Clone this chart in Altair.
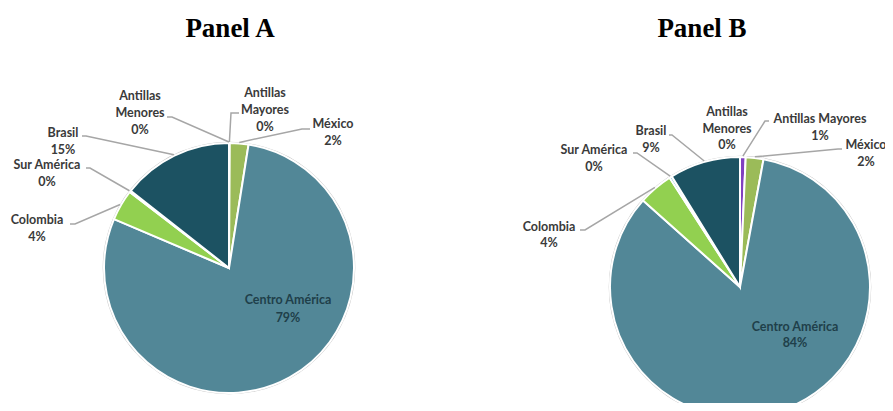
import math
import altair as alt
import pandas as pd

# ---------------- data ----------------
regions = ["Antillas Mayores", "México", "Centro América", "Colombia",
           "Sur América", "Brasil", "Antillas Menores"]
share_a = [0.1, 2.4, 78.9, 4.0, 0.2, 14.4, 0.0]
share_b = [0.7, 2.2, 83.7, 4.3, 0.3, 8.8, 0.0]
pct_a = ["0%", "2%", "79%", "4%", "0%", "15%", "0%"]
pct_b = ["1%", "2%", "84%", "4%", "0%", "9%", "0%"]
panel_titles = ["Panel A", "Panel B"]

colors = ["#8040C0", "#9BBB59", "#528797", "#92D050", "#4BACC6", "#1C5262", "#C0504D"]

# ---------------- layout (page pixels) ----------------
W, H = 877, 395
OFF = 8
pies = {"A": dict(cx=229, cy=268, r=125), "B": dict(cx=740, cy=287, r=130)}
title_pos = {"A": (230, 37), "B": (702, 37)}

# label text: name lines, x centre, first-line y, line spacing
label_layout = {
    "A": {
        "Antillas Menores": (["Antillas", "Menores"], 140, 96, 17),
        "Antillas Mayores": (["Antillas", "Mayores"], 265, 93, 17),
        "México": (["México"], 333, 124, 17),
        "Brasil": (["Brasil"], 63, 133, 17),
        "Sur América": (["Sur América"], 47, 165, 17),
        "Colombia": (["Colombia"], 37, 220, 17),
        "Centro América": (["Centro América"], 288, 300, 18),
    },
    "B": {
        "Antillas Menores": (["Antillas", "Menores"], 727, 112, 16.5),
        "Antillas Mayores": (["Antillas Mayores"], 820, 119, 17),
        "México": (["México"], 866, 145, 17),
        "Brasil": (["Brasil"], 651, 131, 17),
        "Sur América": (["Sur América"], 594, 150, 17),
        "Colombia": (["Colombia"], 549, 227, 16),
        "Centro América": (["Centro América"], 795, 327, 16),
    },
}
# leader lines: label end point, elbow point (then to the slice edge)
leader_layout = {
    "A": {
        "Antillas Menores": [(167, 117), (172, 117)],
        "Antillas Mayores": [(239, 113), (231, 113)],
        "México": [(310, 129), (302, 129)],
        "Brasil": [(82, 136), (86, 136)],
        "Sur América": [(86, 168), (90, 168)],
        "Colombia": [(70, 224), (75, 224)],
    },
    "B": {
        "Antillas Mayores": [(769, 121), (765, 121)],
        "México": [(842, 149), (838, 149)],
        "Brasil": [(669, 135), (672, 135)],
        "Sur América": [(633, 153), (637, 153)],
        "Colombia": [(580, 230), (585, 230)],
    },
}

panels = {"A": (share_a, pct_a), "B": (share_b, pct_b)}

# ---------------- build tables ----------------
arc_rows, text_rows, line_rows = [], [], []
for p, (shares, pcts) in panels.items():
    geo = pies[p]
    cum = 0.0
    total = sum(shares)
    for i, (reg, s, pc) in enumerate(zip(regions, shares, pcts)):
        arc_rows.append(dict(panel=p, region=reg, share=s, order=i))
        mid = 2 * math.pi * (cum + s / 2) / total
        cum += s
        names, lx, ly, sp = label_layout[p][reg]
        lines = names + [pc]
        for k, t in enumerate(lines):
            text_rows.append(dict(panel=p, region=reg, text=t,
                                  x=lx - OFF, y=ly + k * sp - OFF,
                                  inside=reg == "Centro América"))
        if reg in leader_layout[p]:
            pts = leader_layout[p][reg]
            ex = geo["cx"] + (geo["r"] + 1) * math.sin(mid)
            ey = geo["cy"] - (geo["r"] + 1) * math.cos(mid)
            pts = pts + [(ex, ey)]
            for k, (px, py) in enumerate(pts):
                line_rows.append(dict(id=p + reg, seq=k, x=px - OFF, y=py - OFF))

arc_df = pd.DataFrame(arc_rows)
text_df = pd.DataFrame(text_rows)
line_df = pd.DataFrame(line_rows)
title_df = pd.DataFrame([dict(text=t, x=title_pos[p][0] - OFF, y=title_pos[p][1] - OFF)
                         for t, p in zip(panel_titles, ["A", "B"])])

xs = alt.Scale(domain=[0, W])
ys = alt.Scale(domain=[0, H], reverse=True)
color_scale = alt.Scale(domain=regions, range=colors)

layers = []
for p in ["A", "B"]:
    geo = pies[p]
    ring = alt.Chart(pd.DataFrame({"a": [1]})).mark_arc(
        theta=0, theta2=2 * math.pi, innerRadius=geo["r"], outerRadius=geo["r"] + 1.3,
        color="#C4C4C4"
    ).encode(x=alt.value(geo["cx"] - OFF), y=alt.value(geo["cy"] - OFF))
    pie = alt.Chart(arc_df).transform_filter(alt.datum.panel == p).mark_arc(
        outerRadius=geo["r"], stroke="white", strokeWidth=2
    ).encode(
        theta=alt.Theta("share:Q", stack=True),
        order=alt.Order("order:Q"),
        color=alt.Color("region:N", scale=color_scale, legend=None),
        x=alt.value(geo["cx"] - OFF),
        y=alt.value(geo["cy"] - OFF),
    )
    layers += [ring, pie]

leaders = alt.Chart(line_df).mark_line(color="#A6A6A6", strokeWidth=1.5).encode(
    x=alt.X("x:Q", scale=xs, axis=None),
    y=alt.Y("y:Q", scale=ys, axis=None),
    detail="id:N",
    order="seq:Q",
)

labels = alt.Chart(text_df).mark_text(
    font="Lato", fontSize=12.5, fontWeight="bold", align="center", baseline="middle"
).encode(
    x=alt.X("x:Q", scale=xs, axis=None),
    y=alt.Y("y:Q", scale=ys, axis=None),
    text="text:N",
    color=alt.condition(alt.datum.inside, alt.value("#1F3F4A"), alt.value("#3A3A3A")),
)

titles = alt.Chart(title_df).mark_text(
    font="Liberation Serif", fontSize=27, fontWeight="bold", align="center",
    baseline="alphabetic", color="black"
).encode(
    x=alt.X("x:Q", scale=xs, axis=None),
    y=alt.Y("y:Q", scale=ys, axis=None),
    text="text:N",
)

chart = alt.layer(*layers, leaders, labels, titles).properties(
    width=W, height=H, padding=0, autosize="none"
).configure_view(strokeWidth=0).resolve_scale(theta="independent")

chart.save("out.html", embed_options={"renderer": "svg", "actions": False})
